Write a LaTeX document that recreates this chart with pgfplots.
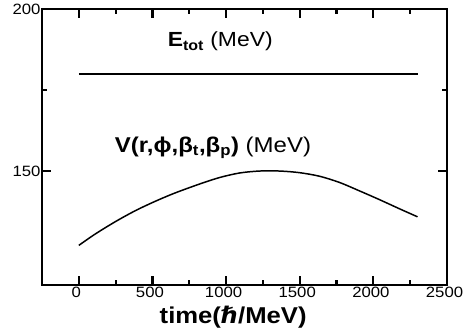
\documentclass[border=0pt]{standalone}
\usepackage{fontspec}
\setmainfont[FakeStretch=1.12]{Liberation Sans}
\newfontfamily\dejavu[FakeStretch=1.05]{DejaVu Sans}
\usepackage{pgfplots}
\pgfplotsset{compat=1.18}
\begin{document}
\begin{tikzpicture}
\useasboundingbox (-42bp,-46bp) rectangle (421bp,285bp);
\begin{axis}[
  at={(0,0)}, anchor=south west,
  scale only axis,
  width=405bp, height=276bp,
  xmin=-250, xmax=2500, ymin=115, ymax=200,
  xtick={0,500,...,2500}, ytick={150,200},
  minor x tick num=1, minor y tick num=1,
  tick align=inside,
  major tick length=9bp, minor tick length=5bp,
  every tick/.append style={line width=2.2pt, black},
  major tick style={line width=2.2pt, black},
  minor tick style={line width=2.2pt, black},
  axis line style={line width=2.6pt},
  /pgf/number format/assume math mode=true,
  /pgf/number format/1000 sep={},
  tick label style={font=\fontsize{15}{17}\selectfont},
  yticklabel style={xshift=2bp},
  xticklabel style={yshift=1bp, xshift=-2.5bp},
  xlabel={\fontsize{23}{25}\selectfont\bfseries time({\dejavu\bfseries ℏ}/MeV)},
  xlabel style={at={(axis description cs:0.472,0)}, anchor=base, yshift=-38bp},
  clip=false,
]
\addplot[black, line width=1.5pt] coordinates {(0,180) (2300,180)};
\addplot[black, line width=1.5pt, smooth] coordinates {
(0,127.2) (108,130.6) (244,134.4) (380,137.8) (515,140.7) (651,143.3)
(820,146.1) (956,148.1) (1092,149.5) (1227,150.1) (1363,150.1) (1498,149.6)
(1634,148.5) (1769,146.6) (1905,144.0) (2041,141.3) (2176,138.5) (2300,136.0)};
\node[font=\fontsize{20.5}{24}\selectfont, anchor=base west, inner sep=0pt] at (axis cs:603,188.3) {\textbf{E\textsubscript{tot}} (MeV)};
\node[font=\fontsize{21.5}{24}\selectfont, anchor=base west, inner sep=0pt] at (axis cs:244,155.9) {\textbf{V(r,ϕ,β\textsubscript{t},β\textsubscript{p})} (MeV)};
\end{axis}
\end{tikzpicture}
\end{document}
